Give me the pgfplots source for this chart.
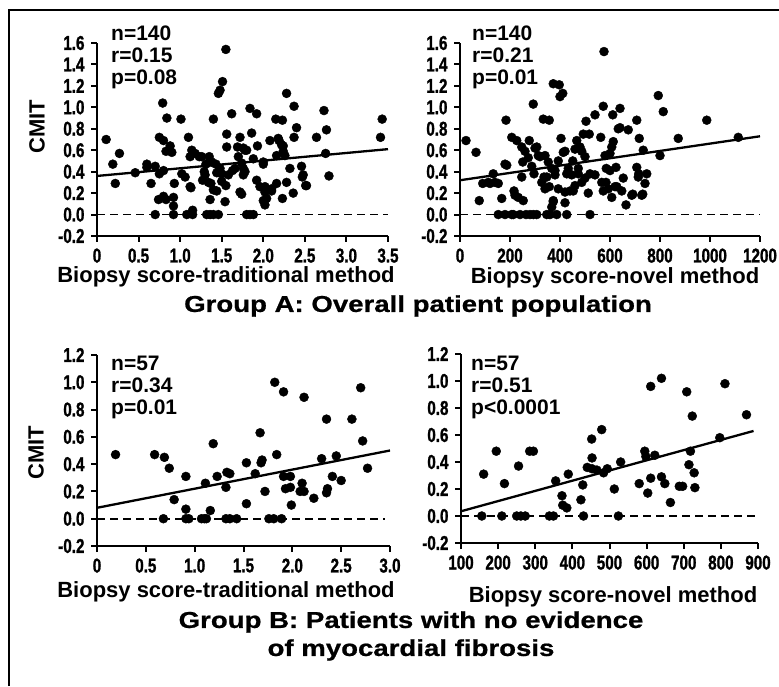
\documentclass[border=0pt]{standalone}
\usepackage{pgfplots}
\pgfplotsset{compat=1.18}
\usepackage{fontspec}
\setmainfont{Liberation Sans}
\newfontfamily\tickfont[FakeStretch=0.76, FakeBold=1.2]{Liberation Sans}
\newfontfamily\titlefont[FakeStretch=1.2, FakeBold=0.8]{Liberation Sans}
\newcommand\tickfnt{\tickfont\bfseries\fontsize{20}{20}\selectfont}
\pgfplotsset{
  panel/.style={
    scale only axis, axis lines=left,
    axis line style={-, line width=2.4pt},
    tick style={line width=2pt, black}, tick align=outside, major tick length=6pt,
    tick label style={font=\tickfnt},
    every tick label/.append style={font=\tickfnt},
    xticklabel style={yshift=-3pt},
    yticklabel style={xshift=-3pt},
    /pgf/number format/assume math mode=true,
    clip=false,
  },
  pts/.style={only marks, mark=*, mark size=4.5pt, black, mark options={fill=black}},
  reg/.style={line width=2.3pt, black},
  zero/.style={line width=1.8pt, black, dash pattern=on 8pt off 5pt},
}
\begin{document}
\begin{tikzpicture}[x=1pt,y=1pt]
\useasboundingbox (0,0) rectangle (779,686);
\draw[line width=2.5pt] (9,0) -- (9,676) -- (779,676);
% ---------------- A1
\begin{axis}[panel, at={(97pt,450pt)}, anchor=south west, width=291pt, height=193pt,
  xmin=0, xmax=3.5, ymin=-0.2, ymax=1.6,
  xtick={0,0.5,1,1.5,2,2.5,3,3.5}, xticklabels={0,0.5,1.0,1.5,2.0,2.5,3.0,3.5},
  ytick={-0.2,0,0.2,0.4,0.6,0.8,1.0,1.2,1.4,1.6},
  yticklabels={-0.2,0.0,0.2,0.4,0.6,0.8,1.0,1.2,1.4,1.6}]
\addplot[zero] coordinates {(0,0) (3.5,0)};
\addplot[pts] table {
0.11 0.70
0.19 0.47
0.22 0.29
0.27 0.57
0.46 0.39
0.60 0.47
0.60 0.44
0.65 0.29
0.70 0.45
0.70 0.00
0.75 0.72
0.80 0.69
0.79 1.04
0.84 0.90
0.83 0.59
0.88 0.64
0.90 0.58
0.75 0.38
0.80 0.41
0.74 0.14
0.80 0.17
0.83 0.14
0.92 0.16
0.92 0.08
0.92 0.00
0.93 0.29
1.01 0.89
1.02 0.38
1.06 0.35
1.10 0.72
1.12 0.54
1.13 0.25
1.08 0.00
1.15 0.04
1.15 0.00
1.18 0.57
1.23 0.54
1.27 0.32
1.29 0.40
1.31 0.47
1.35 0.54
1.37 0.29
1.32 0.00
1.36 0.00
1.40 0.00
1.46 0.00
1.40 0.89
1.43 0.47
1.46 1.13
1.48 1.16
1.51 1.24
1.55 1.54
1.36 0.14
1.44 0.22
1.50 0.38
1.54 0.12
1.55 0.27
1.56 0.75
1.56 0.63
1.62 0.94
1.63 0.41
1.69 0.63
1.72 0.72
1.70 0.54
1.74 0.19
1.78 0.60
1.80 0.00
1.84 0.00
1.88 0.00
1.84 0.99
1.86 0.76
1.92 0.94
1.93 0.64
2.00 0.47
1.92 0.32
2.02 0.26
2.00 0.13
2.02 0.09
2.08 0.69
2.10 0.22
2.15 0.89
2.19 0.69
2.23 0.88
2.24 0.64
2.26 0.55
2.23 0.15
2.28 1.13
2.32 0.43
2.37 1.01
2.40 0.81
2.37 0.72
2.36 0.20
2.46 0.45
2.47 0.35
2.51 0.27
2.64 0.72
2.73 0.97
2.76 0.79
2.75 0.57
2.79 0.36
3.43 0.89
3.41 0.72
1.14 0.60
1.26 0.54
1.30 0.37
1.34 0.30
1.38 0.49
1.40 0.23
1.44 0.39
1.48 0.43
1.50 0.31
1.58 0.37
1.66 0.43
1.76 0.37
1.12 0.26
1.76 0.62
1.80 0.60
1.76 0.43
1.78 0.40
2.00 0.49
2.18 0.71
2.22 0.65
2.24 0.59
2.16 0.55
1.96 0.26
2.02 0.21
2.04 0.15
2.10 0.24
2.16 0.29
2.28 0.30
2.48 0.37
2.52 0.27
1.72 0.21
1.88 0.52
1.74 0.48
};
\addplot[reg] coordinates {(0,0.36) (3.5,0.61)};
\end{axis}
% ---------------- A2
\begin{axis}[panel, at={(460pt,450pt)}, anchor=south west, width=300pt, height=193pt,
  xmin=0, xmax=1200, ymin=-0.2, ymax=1.6,
  xtick={0,200,400,600,800,1000,1200}, xticklabels={0,200,400,600,800,1000,1200},
  ytick={-0.2,0,0.2,0.4,0.6,0.8,1.0,1.2,1.4,1.6},
  yticklabels={-0.2,0.0,0.2,0.4,0.6,0.8,1.0,1.2,1.4,1.6}]
\addplot[zero] coordinates {(0,0) (1200,0)};
\addplot[pts] table {
24 0.69
64 0.58
77 0.13
91 0.29
120 0.29
133 0.38
153 0.29
167 0.15
153 0.00
180 0.47
184 0.88
187 0.46
207 0.00
240 0.00
264 0.00
293 0.00
347 0.00
360 0.00
387 0.00
427 0.00
520 0.00
207 0.72
227 0.69
216 0.22
233 0.16
253 0.13
247 0.35
251 0.49
247 0.63
277 0.69
293 1.03
287 0.45
296 0.38
307 0.63
320 0.54
333 0.89
357 0.88
340 0.55
347 0.35
357 0.26
336 0.35
373 1.22
397 1.21
400 1.10
411 1.13
373 0.13
367 0.07
420 0.11
380 0.41
393 0.50
404 0.71
413 0.58
427 0.38
440 0.22
453 0.22
451 0.50
460 0.61
467 0.69
480 0.63
473 0.38
487 0.30
500 0.54
504 0.87
493 0.75
517 0.75
513 0.20
520 0.38
540 0.93
573 1.01
576 1.52
563 0.72
573 0.22
584 0.30
600 0.41
600 0.57
607 0.63
611 0.93
613 0.68
607 0.16
624 0.44
640 0.99
640 0.81
627 0.26
647 0.22
664 0.09
673 0.79
691 0.19
707 0.88
717 0.71
733 0.60
707 0.44
713 0.35
731 0.19
747 0.38
740 0.29
793 1.11
813 0.96
800 0.55
873 0.71
987 0.88
1113 0.72
260 0.59
273 0.53
300 0.62
313 0.55
353 0.49
367 0.43
380 0.37
420 0.59
433 0.43
447 0.37
487 0.59
500 0.34
540 0.37
567 0.30
580 0.55
327 0.30
340 0.24
140 0.30
113 0.30
220 0.18
393 0.24
420 0.21
460 0.27
473 0.43
180 0.00
213 0.00
280 0.00
307 0.00
373 0.12
585 0.43
593 0.24
620 0.26
633 0.80
653 0.34
687 0.18
727 0.18
715 0.38
};
\addplot[reg] coordinates {(0,0.32) (1200,0.73)};
\end{axis}
% ---------------- B1
\begin{axis}[panel, at={(97pt,140pt)}, anchor=south west, width=293pt, height=191pt,
  xmin=0, xmax=3.0, ymin=-0.2, ymax=1.2,
  xtick={0,0.5,1,1.5,2,2.5,3}, xticklabels={0,0.5,1.0,1.5,2.0,2.5,3.0},
  ytick={-0.2,0,0.2,0.4,0.6,0.8,1.0,1.2},
  yticklabels={-0.2,0.0,0.2,0.4,0.6,0.8,1.0,1.2}]
\addplot[zero] coordinates {(0,0) (2.95,0)};
\addplot[pts] table {
0.19 0.47
0.59 0.47
0.69 0.45
0.68 0.00
0.74 0.37
0.79 0.14
0.91 0.31
0.91 0.07
0.91 0.00
0.94 0.00
1.07 0.00
1.11 0.26
1.12 0.00
1.16 0.06
1.19 0.55
1.23 0.31
1.32 0.00
1.36 0.00
1.43 0.00
1.32 0.23
1.33 0.34
1.36 0.33
1.53 0.41
1.53 0.11
1.62 0.33
1.67 0.63
1.68 0.41
1.69 0.43
1.72 0.20
1.76 0.00
1.81 0.00
1.89 0.00
1.82 1.00
1.91 0.93
1.84 0.47
1.91 0.31
1.93 0.22
1.98 0.31
1.98 0.23
1.99 0.10
2.10 0.26
2.12 0.89
2.08 0.20
2.12 0.20
2.22 0.15
2.30 0.44
2.35 0.73
2.36 0.22
2.35 0.19
2.41 0.31
2.45 0.46
2.50 0.28
2.61 0.73
2.70 0.96
2.72 0.57
2.77 0.37
1.10 0.00
};
\addplot[reg] coordinates {(0,0.08) (3.0,0.50)};
\end{axis}
% ---------------- B2
\begin{axis}[panel, at={(461pt,143pt)}, anchor=south west, width=297pt, height=189pt,
  xmin=100, xmax=900, ymin=-0.2, ymax=1.2,
  xtick={100,200,300,400,500,600,700,800,900},
  xticklabels={100,200,300,400,500,600,700,800,900},
  ytick={-0.2,0,0.2,0.4,0.6,0.8,1.0,1.2},
  yticklabels={-0.2,0.0,0.2,0.4,0.6,0.8,1.0,1.2}]
\addplot[zero] coordinates {(100,0) (900,0)};
\addplot[pts] table {
161 0.31
195 0.48
217 0.24
255 0.37
285 0.48
295 0.48
156 0.00
210 0.00
250 0.00
261 0.00
273 0.00
338 0.00
349 0.00
430 0.00
524 0.00
355 0.26
372 0.15
374 0.08
385 0.06
389 0.31
423 0.12
428 0.23
440 0.36
452 0.57
453 0.43
453 0.35
479 0.64
466 0.34
484 0.32
494 0.35
513 0.20
530 0.40
580 0.24
595 0.48
598 0.44
603 0.17
611 0.96
611 0.28
622 0.45
640 1.02
640 0.29
649 0.24
664 0.10
688 0.22
697 0.22
708 0.92
714 0.38
718 0.48
723 0.74
728 0.32
730 0.21
797 0.58
811 0.98
869 0.75
};
\addplot[reg] coordinates {(100,0.035) (888,0.63)};
\end{axis}
% ---------------- texts
\node[rotate=90, font=\bfseries\fontsize{22}{22}\selectfont] at (37,559) {CMIT};
\node[rotate=90, font=\bfseries\fontsize{22}{22}\selectfont] at (36,233) {CMIT};
\node[anchor=north west, align=left, inner sep=0pt, font=\bfseries\fontsize{21}{22}\selectfont] at (111,660) {n=140\\r=0.15\\p=0.08};
\node[anchor=north west, align=left, inner sep=0pt, font=\bfseries\fontsize{21}{22}\selectfont] at (472,660) {n=140\\r=0.21\\p=0.01};
\node[anchor=north west, align=left, inner sep=0pt, font=\bfseries\fontsize{21}{22}\selectfont] at (111,330) {n=57\\r=0.34\\p=0.01};
\node[anchor=north west, align=left, inner sep=0pt, font=\bfseries\fontsize{21}{22}\selectfont] at (471,330) {n=57\\r=0.51\\p<0.0001};
\node[inner sep=0pt, font=\bfseries\fontsize{22}{22}\selectfont] at (226,409) {Biopsy score-traditional method};
\node[inner sep=0pt, font=\bfseries\fontsize{22}{22}\selectfont] at (615,408) {Biopsy score-novel method};
\node[font=\titlefont\bfseries\fontsize{23}{23}\selectfont] at (418,380) {Group A: Overall patient population};
\node[inner sep=0pt, font=\bfseries\fontsize{22}{22}\selectfont] at (226,94) {Biopsy score-traditional method};
\node[inner sep=0pt, font=\bfseries\fontsize{22}{22}\selectfont] at (613,89) {Biopsy score-novel method};
\node[align=center, font=\titlefont\bfseries\fontsize{23}{28}\selectfont] at (411,50) {Group B: Patients with no evidence\\of myocardial fibrosis};
\end{tikzpicture}
\end{document}
